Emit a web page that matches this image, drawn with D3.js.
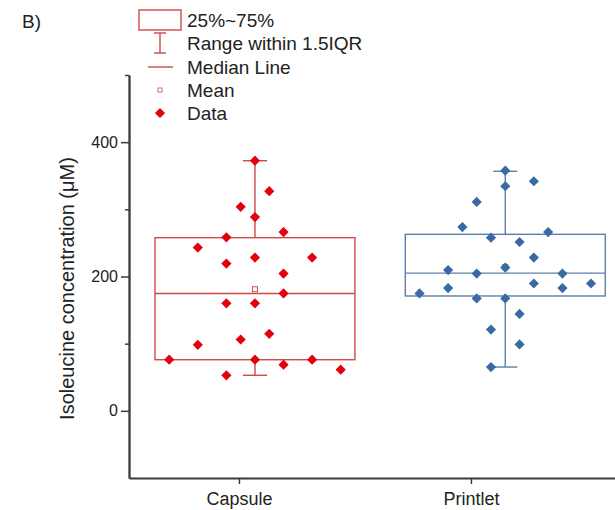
<!DOCTYPE html>
<html>
<head>
<meta charset="utf-8">
<script src="https://cdn.jsdelivr.net/npm/d3@7"></script>
<style>
  html, body { margin: 0; padding: 0; background: #fff; }
  svg { display: block; font-family: "Liberation Sans", Arial, sans-serif; }
</style>
</head>
<body>
<svg id="chart" width="615" height="510"></svg>
<script>
// ---------------- data ----------------
const categories = ["Capsule", "Printlet"];
const yTickLabels = [0, 200, 400];
const yMinorTicks = [100, 300, 500];

// individual measurements (µM) and their beeswarm column index
const capsuleValues = [372.4, 327, 303.7, 288.4, 266.2, 258.3, 243, 219.3, 228.2, 228.2, 204.4, 174.8,
  160, 160, 114.7, 106.2, 98.3, 76.1, 76.1, 76.1, 68.7, 61.3, 52.9];
const capsuleColumns = [0, 1, -1, 0, 2, -2, -4, -2, 0, 4, 2, 2, -2, 0, 1, -1, -4, -6, 0, 4, 2, 6, -2];

const printletValues = [357.6, 341.8, 334.4, 311.1, 273.6, 266.2, 257.8, 251.4, 228.2, 209.5, 213.3, 204.4,
  204.4, 189.6, 189.6, 182.8, 182.8, 174.8, 167.4, 167.4, 144.3, 121, 98.8, 65.2];
const printletColumns = [0, 2, 0, -2, -3, 3, -1, 1, 2, -4, 0, -2, 4, 2, 6, -4, 4, -6, -2, 0, 1, -1, 1, -1];

// box statistics: [whiskerLow, Q1, median, Q3, whiskerHigh]
const capsuleBox = [52.9, 76.1, 174.8, 257.8, 372.4];
const printletBox = [65.2, 171, 205, 262.8, 356.6];

const legendLabels = ["25%~75%", "Range within 1.5IQR", "Median Line", "Mean", "Data"];

// ---------------- layout ----------------
const layout = {
  left: 129, right: 615, top: 75, bottom: 478,
  xDomain: [0.526, 2.621],
  boxCenter: [1.069, 2.148],
  boxHalf: 0.431,
  capHalf: 0.052,
  jitterStep: 0.0616
};
const styles = [
  { point: "#e3000f", box: "#d04848" },
  { point: "#3a6aa3", box: "#5a80aa" }
];

const groups = [
  { values: capsuleValues, cols: capsuleColumns, box: capsuleBox },
  { values: printletValues, cols: printletColumns, box: printletBox }
];

const svg = d3.select("#chart");
const x = d3.scaleLinear().domain(layout.xDomain).range([layout.left, layout.right]);
const y = d3.scaleLinear().domain([-100, 500]).range([layout.bottom, layout.top]);

const axisColor = "#3a3a3a";

// ---------------- axes ----------------
const yAxisMinor = svg.append("g").attr("transform", `translate(${layout.left},0)`)
  .call(d3.axisLeft(y).tickValues(yMinorTicks).tickSize(4).tickSizeOuter(0).tickFormat(""));
const yAxis = svg.append("g").attr("transform", `translate(${layout.left},0)`)
  .call(d3.axisLeft(y).tickValues(yTickLabels).tickSize(8).tickSizeOuter(0).tickPadding(3).tickFormat(d3.format("d")));
[yAxisMinor, yAxis].forEach(g => {
  g.selectAll("path").attr("stroke", axisColor).attr("stroke-width", 1.8);
  g.selectAll("line").attr("stroke", axisColor).attr("stroke-width", 1.5);
});
yAxis.selectAll("text").attr("font-size", 16).attr("fill", "#222").attr("font-family", "Liberation Sans, Arial, sans-serif");

const xAxis = svg.append("g").attr("transform", `translate(0,${layout.bottom})`)
  .call(d3.axisBottom(x).tickValues([1, 2]).tickSize(6).tickSizeOuter(0).tickPadding(8).tickFormat((d, i) => categories[i]));
xAxis.select("path").attr("stroke", axisColor).attr("stroke-width", 1.8);
xAxis.selectAll("line").attr("stroke", axisColor).attr("stroke-width", 1.5);
xAxis.selectAll("text").attr("font-size", 18).attr("fill", "#222").attr("font-family", "Liberation Sans, Arial, sans-serif");

// y label
svg.append("text")
  .attr("transform", `translate(74,${(y(-100) + y(500)) / 2 + 12}) rotate(-90)`)
  .attr("text-anchor", "middle")
  .attr("font-size", 20)
  .attr("fill", "#222")
  .text("Isoleucine concentration (μM)");

// panel label
svg.append("text").attr("x", 22).attr("y", 28).attr("font-size", 19).attr("fill", "#222").text("B)");

// ---------------- boxes ----------------
const diamond = d3.symbol().type(d3.symbolSquare).size(52);

groups.forEach((g, i) => {
  const c = layout.boxCenter[i];
  const [wl, q1, med, q3, wh] = g.box;
  const col = styles[i].box;
  const grp = svg.append("g");
  grp.append("rect")
    .attr("x", x(c - layout.boxHalf)).attr("width", x(c + layout.boxHalf) - x(c - layout.boxHalf))
    .attr("y", y(q3)).attr("height", y(q1) - y(q3))
    .attr("fill", "none").attr("stroke", col).attr("stroke-width", 1.4);
  grp.append("line").attr("x1", x(c - layout.boxHalf)).attr("x2", x(c + layout.boxHalf))
    .attr("y1", y(med)).attr("y2", y(med)).attr("stroke", col).attr("stroke-width", 1.4);
  // whiskers
  [[q3, wh], [q1, wl]].forEach(([a, b]) => {
    grp.append("line").attr("x1", x(c)).attr("x2", x(c)).attr("y1", y(a)).attr("y2", y(b))
      .attr("stroke", col).attr("stroke-width", 1.4);
    grp.append("line").attr("x1", x(c - layout.capHalf)).attr("x2", x(c + layout.capHalf))
      .attr("y1", y(b)).attr("y2", y(b)).attr("stroke", col).attr("stroke-width", 1.4);
  });
  // mean
  const m = d3.mean(g.values);
  grp.append("rect").attr("x", x(c) - 2.5).attr("y", y(m) - 2.5).attr("width", 5).attr("height", 5)
    .attr("fill", "#fff").attr("stroke", col).attr("stroke-width", 1);
  // data points
  grp.selectAll("path.pt").data(g.values).join("path")
    .attr("class", "pt")
    .attr("d", diamond)
    .attr("transform", (d, j) => `translate(${x(c + g.cols[j] * layout.jitterStep)},${y(d)}) rotate(45)`)
    .attr("fill", styles[i].point);
});

// ---------------- legend ----------------
const lg = svg.append("g");
const lx = 160, rowY = [20, 43, 67, 90, 113];
const red = styles[0].box;
lg.append("rect").attr("x", lx - 21).attr("y", rowY[0] - 10).attr("width", 42).attr("height", 20)
  .attr("fill", "none").attr("stroke", red).attr("stroke-width", 1.4);
lg.append("line").attr("x1", lx).attr("x2", lx).attr("y1", rowY[1] - 10).attr("y2", rowY[1] + 10).attr("stroke", red).attr("stroke-width", 1.4);
lg.append("line").attr("x1", lx - 6).attr("x2", lx + 6).attr("y1", rowY[1] - 10).attr("y2", rowY[1] - 10).attr("stroke", red).attr("stroke-width", 1.4);
lg.append("line").attr("x1", lx - 6).attr("x2", lx + 6).attr("y1", rowY[1] + 10).attr("y2", rowY[1] + 10).attr("stroke", red).attr("stroke-width", 1.4);
lg.append("line").attr("x1", lx - 12).attr("x2", lx + 13).attr("y1", rowY[2]).attr("y2", rowY[2]).attr("stroke", red).attr("stroke-width", 1.4);
lg.append("rect").attr("x", lx - 2).attr("y", rowY[3] - 2).attr("width", 4).attr("height", 4)
  .attr("fill", "#fff").attr("stroke", red).attr("stroke-width", 0.8);
lg.append("path").attr("d", diamond).attr("transform", `translate(${lx},${rowY[4]}) rotate(45)`).attr("fill", styles[0].point);
lg.selectAll("text.lt").data(legendLabels).join("text")
  .attr("class", "lt")
  .attr("x", 187).attr("y", (d, i) => rowY[i] + 7)
  .attr("font-size", 19).attr("fill", "#222")
  .text(d => d);
</script>
</body>
</html>
